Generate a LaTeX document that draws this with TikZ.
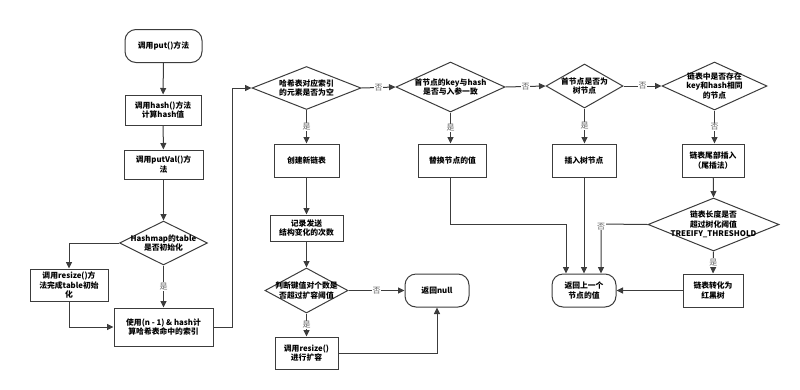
\documentclass[tikz,border=0pt]{standalone}
\usepackage{fontspec}
\setmainfont{Noto Sans CJK SC}
\usetikzlibrary{shapes.geometric,arrows.meta,calc}
\definecolor{ln}{HTML}{3C3C3C}
\definecolor{lbl}{HTML}{666666}
\begin{document}
\begin{tikzpicture}[x=1pt,y=1pt,
  every node/.style={font=\fontsize{7.8}{9.6}\selectfont\bfseries, text=black},
  box/.style={draw=ln, line width=1pt, inner sep=0pt, align=center},
  rbox/.style={box, rounded corners=11pt},
  dia/.style={draw=ln, line width=1pt, diamond, inner sep=0pt, shape aspect=1},
  arr/.style={draw=ln, line width=1pt, -{Triangle[length=6.5pt,width=6pt]}},
  yl/.style={fill=white, inner sep=0.5pt, text=lbl, font=\fontsize{8}{9}\selectfont}
]
\useasboundingbox (0,0) rectangle (800,-389);

% left column
\node[rbox, minimum width=77pt, minimum height=33pt] (put) at (163.5,-46) {调用put()方法};
\node[box, minimum width=76pt, minimum height=30pt] (hash) at (163,-110) {调用hash()方法\\计算hash值};
\node[box, minimum width=79pt, minimum height=29pt] (putval) at (163.5,-164.5) {调用putVal()方\\法};
\node[dia, minimum width=88pt, minimum height=44pt, label=center:{\parbox{90pt}{\centering Hashmap的table\\是否初始化}}] (d0) at (163.5,-243) {};
\node[box, minimum width=78pt, minimum height=32pt] (rinit) at (69,-285) {调用resize()方\\法完成table初始\\化};
\node[box, minimum width=99pt, minimum height=38pt] (index) at (163.5,-327) {使用(n - 1) \& hash计\\算哈希表命中的索引};

% second column
\node[dia, minimum width=109pt, minimum height=43pt, label=center:{\parbox{100pt}{\centering 哈希表对应索引\\的元素是否为空}}] (d1) at (306.5,-88) {};
\node[box, minimum width=65pt, minimum height=33pt] (newlist) at (306.5,-160.5) {创建新链表};
\node[box, minimum width=73pt, minimum height=26pt] (record) at (306.5,-228) {记录发送\\结构变化的次数};
\node[dia, minimum width=83pt, minimum height=45pt, label=center:{\parbox{90pt}{\centering 判断键值对个数是\\否超过扩容阈值}}] (d5) at (306.5,-290.5) {};
\node[box, minimum width=63pt, minimum height=32pt] (resize2) at (306.5,-353) {调用resize()\\进行扩容};
\node[rbox, minimum width=64pt, minimum height=33pt] (null) at (437,-290.5) {返回null};

% third column
\node[dia, minimum width=109pt, minimum height=50pt, label=center:{\parbox{100pt}{\centering 首节点的key与hash\\是否与入参一致}}] (d2) at (450.5,-87) {};
\node[box, minimum width=68pt, minimum height=33pt] (replace) at (452.5,-160.5) {替换节点的值};

% fourth column
\node[dia, minimum width=77pt, minimum height=44pt, label=center:{\parbox{70pt}{\centering 首节点是否为\\树节点}}] (d3) at (584.5,-86) {};
\node[box, minimum width=64pt, minimum height=33pt] (treeins) at (584,-160.5) {插入树节点};
\node[rbox, minimum width=64pt, minimum height=33pt] (ret) at (584,-290.5) {返回上一个\\节点的值};

% fifth column
\node[dia, minimum width=105pt, minimum height=48pt, label=center:{\parbox{90pt}{\centering 链表中是否存在\\key和hash相同\\的节点}}] (d4) at (714.5,-86) {};
\node[box, minimum width=62pt, minimum height=33pt] (tailins) at (713,-160.5) {链表尾部插入\\（尾插法）};
\node[dia, minimum width=131pt, minimum height=53pt, label=center:{\parbox{110pt}{\centering 链表长度是否\\超过树化阈值\\TREEIFY\_THRESHOLD}}] (d6) at (713.5,-224.5) {};
\node[box, minimum width=60pt, minimum height=33pt] (tree) at (713,-290.5) {链表转化为\\红黑树};

\coordinate (j1) at (566,-224);
\coordinate (j2) at (601,-224);

% connectors
\draw[arr] (put) -- (hash);
\draw[arr] (hash) -- (putval);
\draw[arr] (putval) -- (d0);
\draw[arr] (d0.west) -| (rinit.north);
\draw[arr] (rinit.south) |- (index.west);
\draw[arr] (d0.south) -- node[yl]{是} (index.north);
\draw[arr] (index.east) -- ++(19,0) |- (d1.west);
\draw[arr] (d1.east) -- node[yl]{否} (d2.west);
\draw[arr] (d1.south) -- node[yl]{是} (newlist.north);
\draw[arr] (newlist) -- (record);
\draw[arr] (record) -- (d5.north);
\draw[arr] (d5.east) -- node[yl]{否} (null.west);
\draw[arr] (d5.south) -- node[yl]{是} (resize2.north);
\draw[arr] (resize2.east) -| (null.south);
\draw[arr] (d2.east) -- node[yl]{否} (d3.west);
\draw[arr] (d2.south) -- node[yl]{是} (replace.north -| d2.south);
\draw[arr] (replace.south -| d2.south) |- (j1) -- (j1 |- ret.north);
\draw[arr] (d3.east) -- node[yl]{否} (d4.west);
\draw[arr] (d3.south) -- node[yl]{是} (treeins.north -| d3.south);
\draw[arr] (treeins) -- (ret);
\draw[arr] (d4.south) -- node[yl]{否} (tailins.north -| d4.south);
\draw[arr] (tailins) -- (d6.north);
\draw[arr] (d6.west) -- (j2) -- node[yl, pos=0.05]{否} (j2 |- ret.north);
\draw[arr] (d6.south) -- node[yl]{是} (tree.north);
\draw[arr] (tree.west) -- (ret.east);
\end{tikzpicture}
\end{document}
